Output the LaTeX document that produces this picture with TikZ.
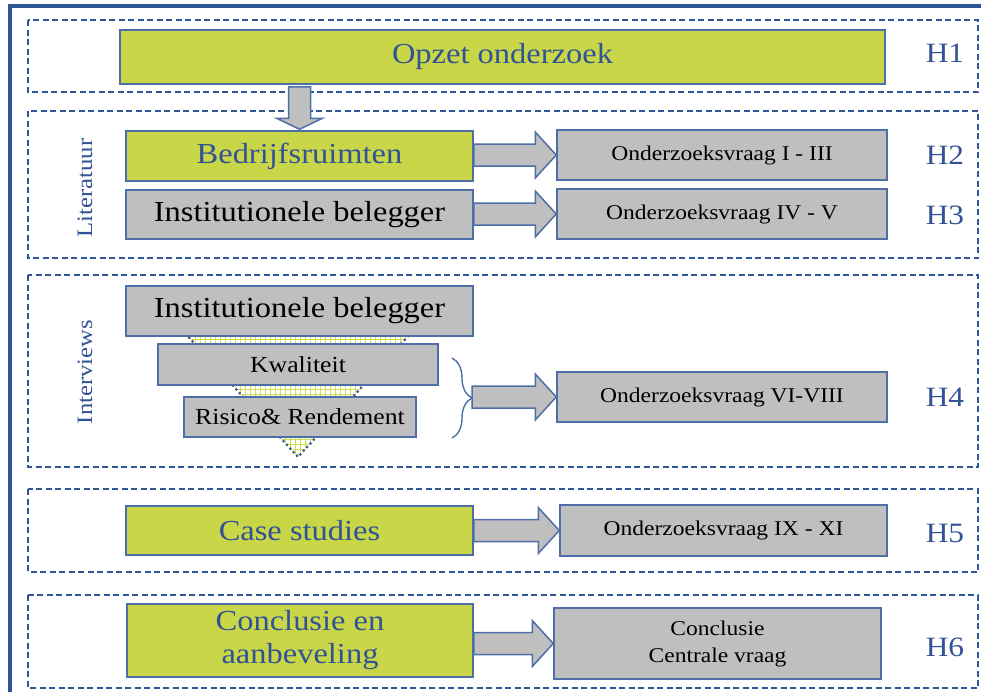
\documentclass[tikz,border=0pt]{standalone}
\usepackage{fontspec}
\setmainfont{Liberation Serif}[FakeStretch=1.12]
\definecolor{FrameBlue}{RGB}{47,85,151}
\definecolor{TextBlue}{RGB}{50,82,150}
\definecolor{BoxLime}{RGB}{200,214,72}
\definecolor{BoxGray}{RGB}{191,191,191}
\definecolor{GridLime}{RGB}{208,220,80}
\usepackage{tikz}
\usetikzlibrary{calc,decorations.pathreplacing}

\newcommand{\blockarrow}[2]{%
  \draw[blockarr] let \p1=(#1), \p2=(#2) in
    (\x1,\y2+11pt) -- (\x2-21pt,\y2+11pt) -- (\x2-21pt,\y2+23pt) -- (\x2,\y2)
    -- (\x2-21pt,\y2-23pt) -- (\x2-21pt,\y2-11pt) -- (\x1,\y2-11pt) -- cycle;}

\begin{document}
\begin{tikzpicture}[x=1pt, y=-1pt,
      every node/.style={align=center, inner sep=2pt},
      limebox/.style={draw=FrameBlue!85, fill=BoxLime, line width=1.5pt, text=TextBlue},
      greybox/.style={draw=FrameBlue!85, fill=BoxGray, line width=1.5pt},
      chapter/.style={draw=FrameBlue, line width=2.6pt, dash pattern=on 6pt off 3.5pt},
      outer/.style={draw=FrameBlue, line width=3.2pt},
      hlabel/.style={text=TextBlue, font=\fontsize{28}{30}\selectfont},
      sidelabel/.style={text=TextBlue, rotate=90, font=\fontsize{22}{24}\selectfont},
      blockarr/.style={draw=FrameBlue!85, fill=BoxGray, line width=1.5pt, line join=miter},
      funnel/.style={draw=FrameBlue, line width=3pt, dash pattern=on 0pt off 5pt, line cap=round},
      funnelgrid/.style={draw=GridLime, line width=0.9pt},
      bracket/.style={draw=FrameBlue!85, line width=1.4pt, decorate,
                      decoration={brace, amplitude=20pt, aspect=0.5}}
  ]
    \clip (0,0) rectangle (981,691);
    \draw[outer] (10,6) rectangle (995,705);
    \foreach \top/\bot in {20/92,111/258,275/467,489/572,595/688} {
      \draw[chapter] (28,\top) rectangle (978,\bot);
    }
    \coordinate (ftl) at (142,286);
    \coordinate (ftr) at (454,286);
    \coordinate (fapex) at (298,457);
    \begin{scope}
      \clip (ftl) -- (ftr) -- (fapex) -- cycle;
      \foreach \gx in {140,145,...,460} {
        \draw[funnelgrid] (\gx,280) -- (\gx,462);
      }
      \foreach \gy in {284,289,...,462} {
        \draw[funnelgrid] (130,\gy) -- (470,\gy);
      }
    \end{scope}
    \draw[funnel] (ftl) -- (fapex) -- (ftr);

    \node[limebox, minimum width=765pt, minimum height=54pt, font=\fontsize{29}{33}\selectfont] (opzet) at (502.5,57) {Opzet onderzoek};
    \node[limebox, minimum width=347pt, minimum height=50pt, font=\fontsize{29}{33}\selectfont] (bedr) at (299.5,156) {Bedrijfsruimten};
    \node[greybox, minimum width=347pt, minimum height=49pt, font=\fontsize{29}{33}\selectfont] (inst1) at (299.5,214.5) {Institutionele belegger};
    \node[greybox, minimum width=330pt, minimum height=50pt, font=\fontsize{21}{25}\selectfont] (vr1) at (722,155) {Onderzoeksvraag I - III};
    \node[greybox, minimum width=330pt, minimum height=50pt, font=\fontsize{21}{25}\selectfont] (vr2) at (722,214) {Onderzoeksvraag IV - V};
    \node[greybox, minimum width=347pt, minimum height=50pt, font=\fontsize{29}{33}\selectfont] (inst2) at (299.5,311) {Institutionele belegger};
    \node[greybox, minimum width=280pt, minimum height=41pt, font=\fontsize{23}{27}\selectfont] (kwal) at (298,364.5) {Kwaliteit};
    \node[greybox, minimum width=232pt, minimum height=40pt, font=\fontsize{23}{27}\selectfont] (risico) at (300,417) {Risico\& Rendement};
    \node[greybox, minimum width=330pt, minimum height=50pt, font=\fontsize{21}{25}\selectfont] (vr3) at (722,397) {Onderzoeksvraag VI-VIII};
    \node[limebox, minimum width=347pt, minimum height=49pt, font=\fontsize{29}{33}\selectfont] (case) at (299.5,530.5) {Case studies};
    \node[greybox, minimum width=327pt, minimum height=51pt, font=\fontsize{21}{25}\selectfont] (vr4) at (723.5,530.5) {Onderzoeksvraag IX - XI};
    \node[limebox, minimum width=346pt, minimum height=73pt, font=\fontsize{29}{33}\selectfont] (concl) at (300,640.5) {Conclusie en\\aanbeveling};
    \node[greybox, minimum width=327pt, minimum height=71pt, font=\fontsize{21}{27}\selectfont] (vr5) at (717.5,643.5) {Conclusie\\Centrale vraag};

    \draw[blockarr] let \p1=(bedr.north), \p2=(opzet.south) in
      (\x1-11pt,\y2-2pt) -- (\x1-11pt,\y1+12pt) -- (\x1-23pt,\y1+12pt) -- (\x1,\y1+1pt)
      -- (\x1+23pt,\y1+12pt) -- (\x1+11pt,\y1+12pt) -- (\x1+11pt,\y2-2pt) -- cycle;
    \blockarrow{bedr.east}{vr1.west}
    \blockarrow{inst1.east}{vr2.west}
    \draw[bracket] (452,358) -- (452,438);
    \coordinate (bracetip) at (472,398);
    \blockarrow{bracetip}{vr3.west}
    \blockarrow{case.east}{vr4.west}
    \blockarrow{concl.east}{vr5.west}

    \node[sidelabel] (lit) at (85,188) {Literatuur};
    \node[sidelabel] (intv) at (85,372) {Interviews};
    \foreach \h/\yy in {1/53,2/155,3/215,4/397,5/533,6/647} {
      \node[hlabel] (h\h) at (945,\yy) {H\h};
    }
  \end{tikzpicture}
\end{document}
